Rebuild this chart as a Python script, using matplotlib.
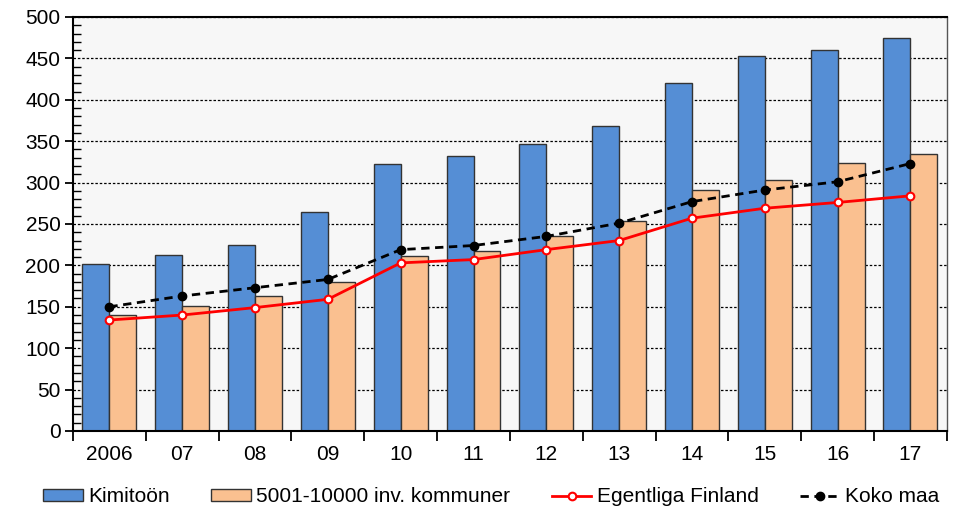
import matplotlib.pyplot as plt
import numpy as np

# Data
years = ["2006", "07", "08", "09", "10", "11", "12", "13", "14", "15", "16", "17"]
kimitoon = [202, 213, 225, 264, 322, 332, 347, 368, 420, 453, 460, 475]
kommuner = [140, 151, 163, 180, 211, 217, 235, 254, 291, 303, 324, 335]
egentliga = [134, 140, 149, 159, 203, 207, 219, 230, 257, 269, 276, 284]
koko_maa = [150, 163, 173, 183, 219, 224, 235, 251, 277, 291, 301, 323]

plt.rcParams['font.family'] = ['Liberation Sans', 'DejaVu Sans']

fig = plt.figure(figsize=(9.54, 5.23), dpi=100)
ax = fig.add_axes([0.0765, 0.176, 0.916, 0.7915])
ax.set_facecolor("#f7f7f7")

x = np.arange(len(years))
w = 0.37

b1 = ax.bar(x - w / 2, kimitoon, w, color="#558ed5", edgecolor="#333333", linewidth=1,
            label="Kimitoön", zorder=2)
b2 = ax.bar(x + w / 2, kommuner, w, color="#fac090", edgecolor="#333333", linewidth=1,
            label="5001-10000 inv. kommuner", zorder=2)
l1, = ax.plot(x, egentliga, color="#ff0000", lw=2, marker="o", ms=5.5, mfc="white", mec="#ff0000",
              mew=1.5, label="Egentliga Finland", zorder=3)
l2, = ax.plot(x, koko_maa, color="black", lw=2, ls=(0, (3, 2)), marker="o", ms=6,
              label="Koko maa", zorder=4)

# Axes
ax.set_xlim(-0.5, len(years) - 0.5)
ax.set_ylim(0, 500)
ax.set_yticks(np.arange(0, 501, 50))
ax.set_yticks(np.arange(0, 501, 10), minor=True)
ax.set_xticks(x)
ax.set_xticklabels(years)
ax.set_xticks(np.arange(-0.5, len(years), 1), minor=True)
ax.tick_params(axis="x", which="major", length=0, pad=10, labelsize=15)
ax.tick_params(axis="x", which="minor", length=7, width=1.3, direction="out")
ax.tick_params(axis="y", which="major", length=6, width=1.3, direction="out", labelsize=15, pad=3)
ax.tick_params(axis="y", which="minor", length=6, width=1, direction="in")

ax.grid(axis="y", which="major", color="black", ls=(0, (2, 1.5)), lw=0.9, zorder=1)
ax.set_axisbelow(True)

for s in ["left", "bottom", "top"]:
    ax.spines[s].set_linewidth(1.5)
ax.spines["right"].set_linewidth(1)
ax.spines["right"].set_color("#555555")

fig.legend(handles=[b1, b2, l1, l2], loc="center", bbox_to_anchor=(0.515, 0.05), ncol=4,
           frameon=False, fontsize=15, columnspacing=2.0, handlelength=1.9,
           handleheight=0.45, handletextpad=0.25)

fig.savefig("out.png", dpi=100)
